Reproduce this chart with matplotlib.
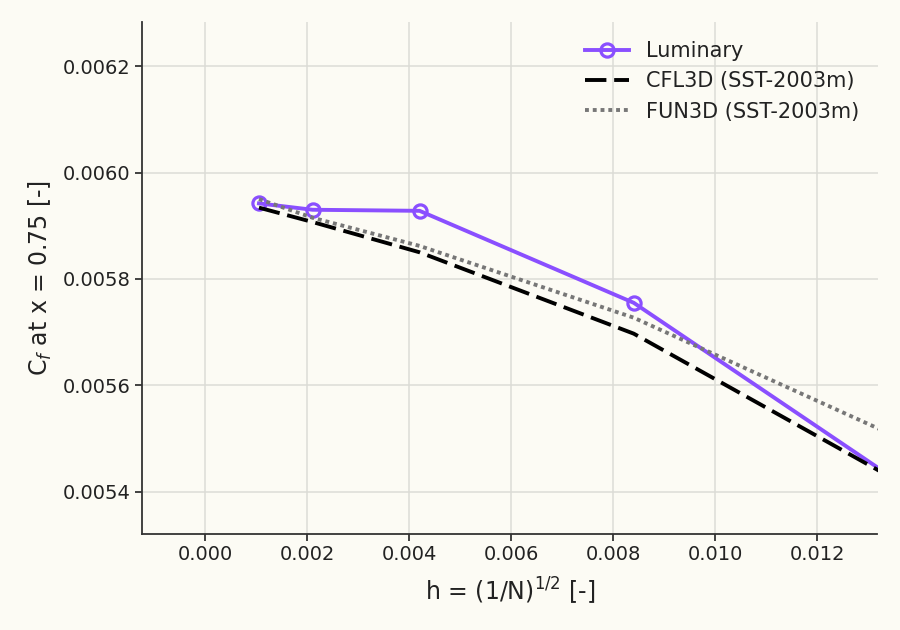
import matplotlib
matplotlib.use("Agg")
import matplotlib.pyplot as plt

# grid spacing h = (1/N)^(1/2) and skin friction at x = 0.75
h_luminary = [0.00105, 0.0021, 0.0042, 0.0084, 0.0168]
cf_luminary = [0.005942, 0.005930, 0.005928, 0.005755, 0.005211]

h_cfl3d = [0.00105, 0.0021, 0.0042, 0.0084, 0.0168]
cf_cfl3d = [0.005934, 0.005907, 0.005850, 0.005697, 0.005247]

h_fun3d = [0.00105, 0.0021, 0.0042, 0.0084, 0.0168]
cf_fun3d = [0.005950, 0.005915, 0.005862, 0.005727, 0.005362]

bg = "#fcfbf4"
fig, ax = plt.subplots(figsize=(9, 6.3), dpi=100)
fig.patch.set_facecolor(bg)
ax.set_facecolor(bg)

ax.plot(h_luminary, cf_luminary, color="#8a4fff", lw=2.8, marker="o",
        markersize=9.5, markerfacecolor="none", markeredgewidth=2.3, label="Luminary")
ax.plot(h_cfl3d, cf_cfl3d, color="black", lw=2.8, linestyle=(0, (5.5, 2)),
        label="CFL3D (SST-2003m)")
ax.plot(h_fun3d, cf_fun3d, color="#777777", lw=2.8, linestyle=(0, (1, 1)),
        label="FUN3D (SST-2003m)")

ax.set_xlim(-0.00124, 0.01318)
ax.set_ylim(0.005321, 0.006283)
ax.set_xticks([0.000, 0.002, 0.004, 0.006, 0.008, 0.010, 0.012])
ax.set_yticks([0.0054, 0.0056, 0.0058, 0.0060, 0.0062])
ax.xaxis.set_major_formatter(matplotlib.ticker.FormatStrFormatter("%.3f"))
ax.yaxis.set_major_formatter(matplotlib.ticker.FormatStrFormatter("%.4f"))

ax.grid(True, color="#dcdcd6", lw=1.1)
ax.set_axisbelow(True)
for s in ["top", "right"]:
    ax.spines[s].set_visible(False)
for s in ["left", "bottom"]:
    ax.spines[s].set_color("#333333")
    ax.spines[s].set_linewidth(1.3)
ax.tick_params(colors="#333333", labelsize=14, labelcolor="#222222", width=1.3, length=5)

ax.set_xlabel("h = (1/N)$^{1/2}$ [-]", fontsize=17, color="#222222", labelpad=8)
ax.set_ylabel("C$_f$ at x = 0.75 [-]", fontsize=17, color="#222222", labelpad=6)

ax.legend(frameon=False, fontsize=15, loc="upper right", labelcolor="#222222",
          handlelength=2.1)

plt.subplots_adjust(left=0.158, right=0.975, top=0.965, bottom=0.153)
plt.savefig("out.png", facecolor=bg)
